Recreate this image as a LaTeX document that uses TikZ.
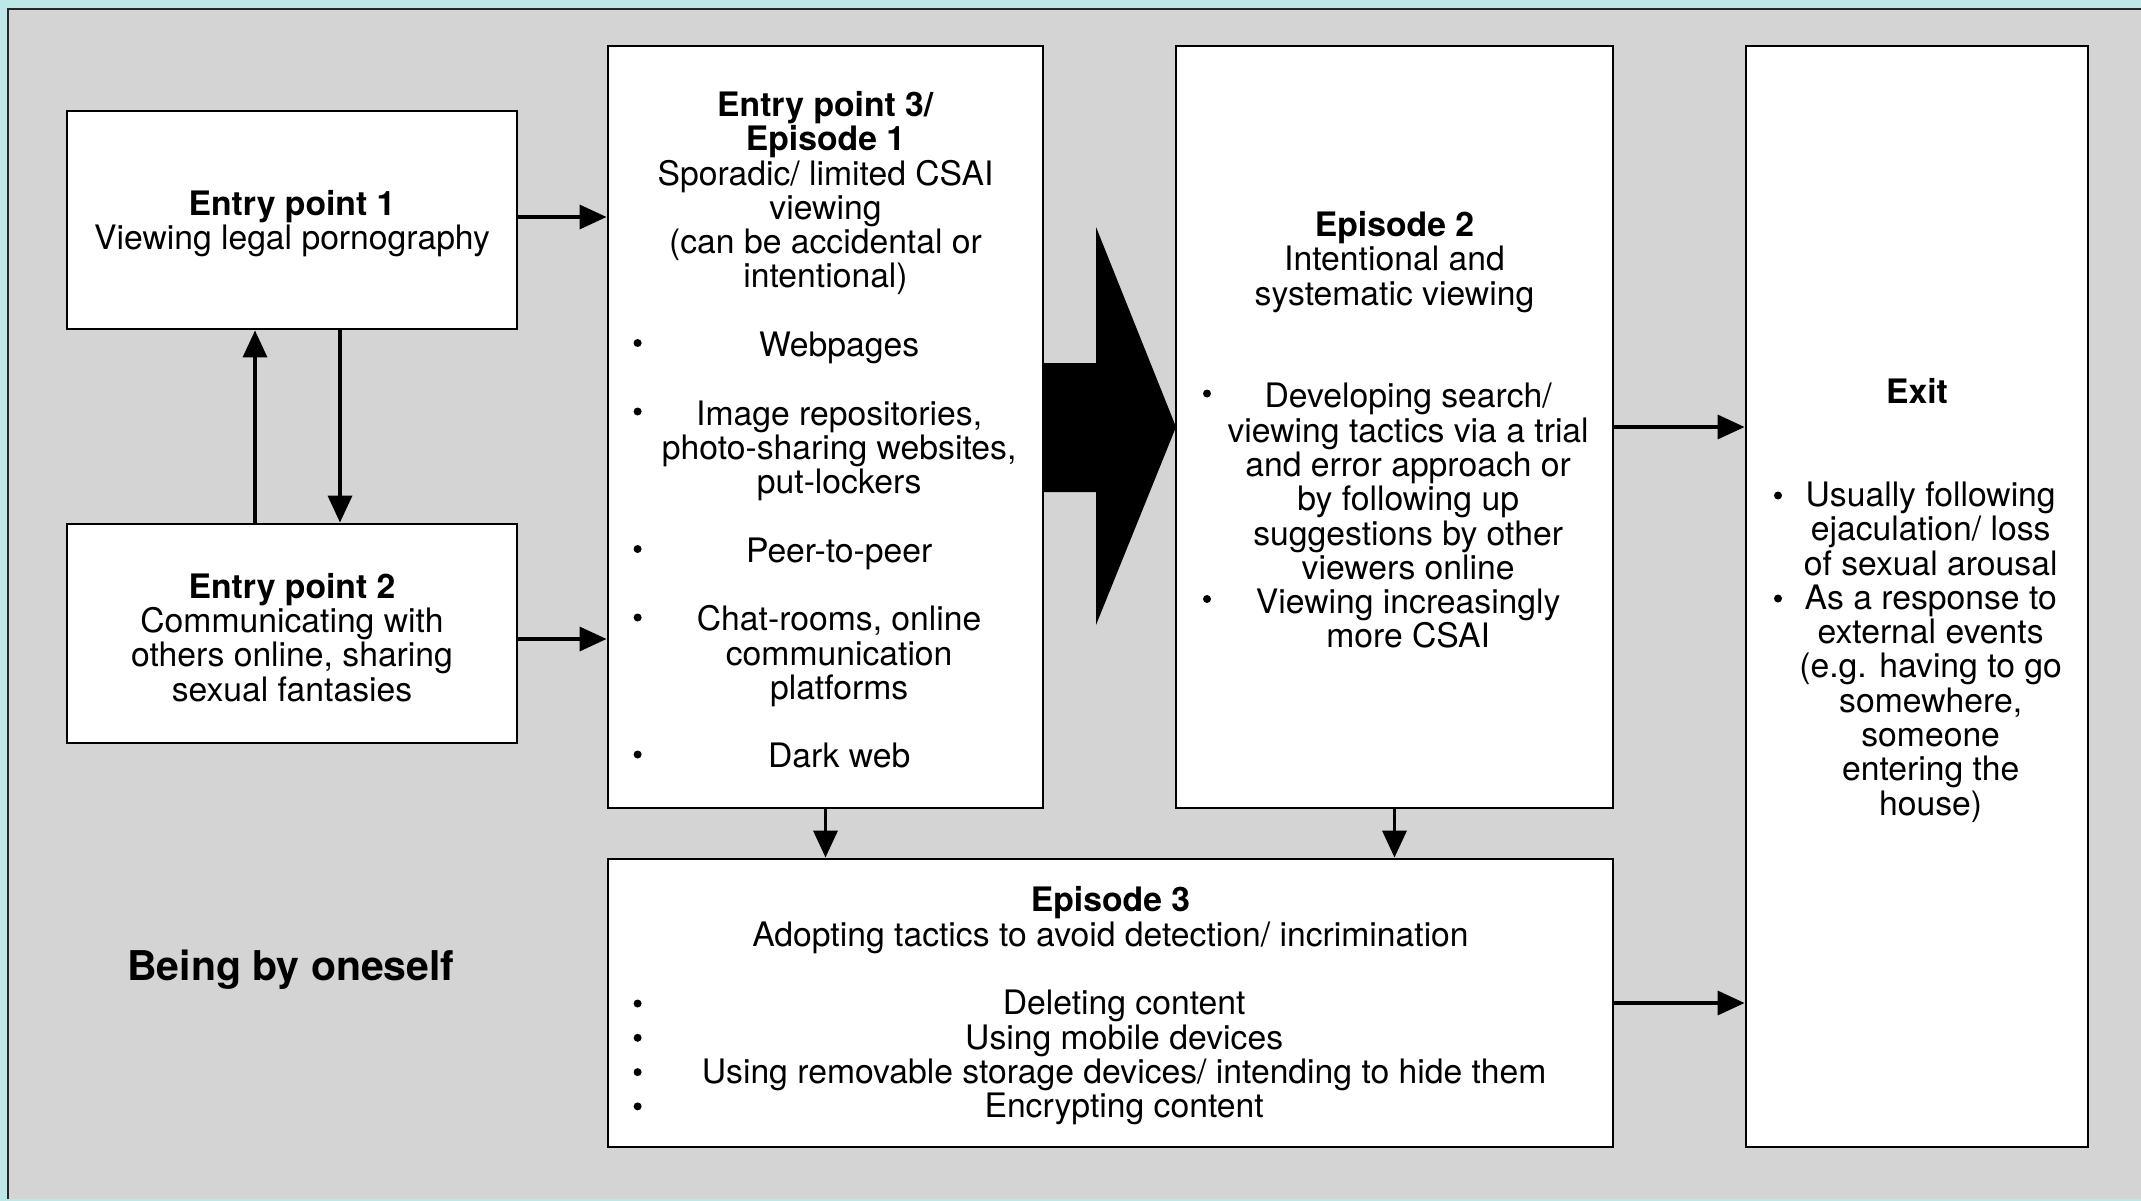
\documentclass[tikz,border=0pt]{standalone}
\usepackage{fontspec}
\setmainfont{TeX Gyre Heros}
\usetikzlibrary{arrows.meta}
\definecolor{tealbg}{HTML}{BEE8E8}
\definecolor{panel}{HTML}{D4D4D4}
\newcommand\bsh{\hspace*{27.3pt}}
\newcommand\tp{\rule{0pt}{31pt}}
\begin{document}
\begin{tikzpicture}[x=1pt,y=-1pt,
  box/.style={draw=black, line width=2.9pt, fill=white, inner sep=0pt, align=center,
    font=\fontsize{33.7}{34.28}\selectfont},
  conn/.style={line width=3.6pt, -{Triangle[length=27pt,width=24pt]}},
  bul/.style={fill=black}
]
\useasboundingbox (0,0) rectangle (2141,1201);
\fill[tealbg] (0,0) rectangle (2141,1201);
\fill[panel] (8,9) rectangle (2150,1199);
\draw[line width=2.5pt, black!85] (8,1199) -- (8,9) -- (2150,9);

% big block arrow
\fill (1043,363) -- (1096,363) -- (1096,227) -- (1176,427) -- (1096,625) -- (1096,492) -- (1043,492) -- cycle;

% boxes
\node[box, minimum width=450pt, minimum height=218pt] (ep1) at (292,220)
  {\rule{0pt}{33pt}\textbf{Entry point 1}\\Viewing legal pornography};
\node[box, minimum width=450pt, minimum height=219pt] (ep2) at (292,633.5)
  {\rule{0pt}{33pt}\textbf{Entry point 2}\\Communicating with\\others online, sharing\\sexual fantasies};
\node[box, minimum width=435pt, minimum height=762pt] (ep3) at (825.5,427)
  {\tp\textbf{Entry point 3/}\\\textbf{Episode 1}\\Sporadic/ limited CSAI\\viewing\\(can be accidental or\\intentional)\\[34.28pt]%
   \bsh Webpages\\[34.28pt]%
   \bsh Image repositories,\\\bsh photo-sharing websites,\\\bsh put-lockers\\[34.28pt]%
   \bsh Peer-to-peer\\[34.28pt]%
   \bsh Chat-rooms, online\\\bsh communication\\\bsh platforms\\[34.28pt]%
   \bsh Dark web};
\node[box, minimum width=437pt, minimum height=762pt] (epb) at (1394.5,427)
  {\tp\textbf{Episode 2}\\Intentional and\\systematic viewing\\[68.56pt]%
   \bsh Developing search/\\\bsh viewing tactics via a trial\\\bsh and error approach or\\\bsh by following up\\\bsh suggestions by other\\\bsh viewers online\\%
   \bsh Viewing increasingly\\\bsh more CSAI};
\node[box, minimum width=342pt, minimum height=1101pt] (exit) at (1917,596.5)
  {\rule{0pt}{33pt}\textbf{Exit}\\[68.56pt]%
   \bsh Usually following\\\bsh ejaculation/ loss\\\bsh of sexual arousal\\%
   \bsh As a response to\\\bsh external events\\\bsh (e.g. having to go\\\bsh somewhere,\\\bsh someone\\\bsh entering the\\\bsh house)};
\node[box, minimum width=1005pt, minimum height=288pt] (epc) at (1110.5,1003)
  {\tp\textbf{Episode 3}\\Adopting tactics to avoid detection/ incrimination\\[34.28pt]%
   \bsh Deleting content\\\bsh Using mobile devices\\\bsh Using removable storage devices/ intending to hide them\\\bsh Encrypting content};

\node[font=\bfseries\fontsize{41}{45}\selectfont, inner sep=0pt] (alone) at (291,970) {Being by oneself};

% bullets
\foreach \y in {343,411.5,549,617.5,754.5} \fill[bul] (637.6,\y) circle (4pt);
\foreach \y in {393.5,599} \fill[bul] (1207,\y) circle (4pt);
\foreach \y in {495.5,598.5} \fill[bul] (1778,\y) circle (4pt);
\foreach \y in {1003.5,1037.8,1072.1,1106.4} \fill[bul] (637.6,\y) circle (4pt);

% connectors
\draw[conn] (ep1.east |- 0,217) -- (ep3.west |- 0,217);
\draw[conn] (ep2.east |- 0,639) -- (ep3.west |- 0,639);
\draw[conn] (ep2.north -| 255,0) -- (ep1.south -| 255,0);
\draw[conn] (ep1.south -| 340,0) -- (ep2.north -| 340,0);
\draw[conn] (ep3.south) -- (epc.north -| ep3.south);
\draw[conn] (epb.south) -- (epc.north -| epb.south);
\draw[conn] (epb.east) -- (exit.west |- epb.east);
\draw[conn] (epc.east) -- (exit.west |- epc.east);
\end{tikzpicture}
\end{document}
